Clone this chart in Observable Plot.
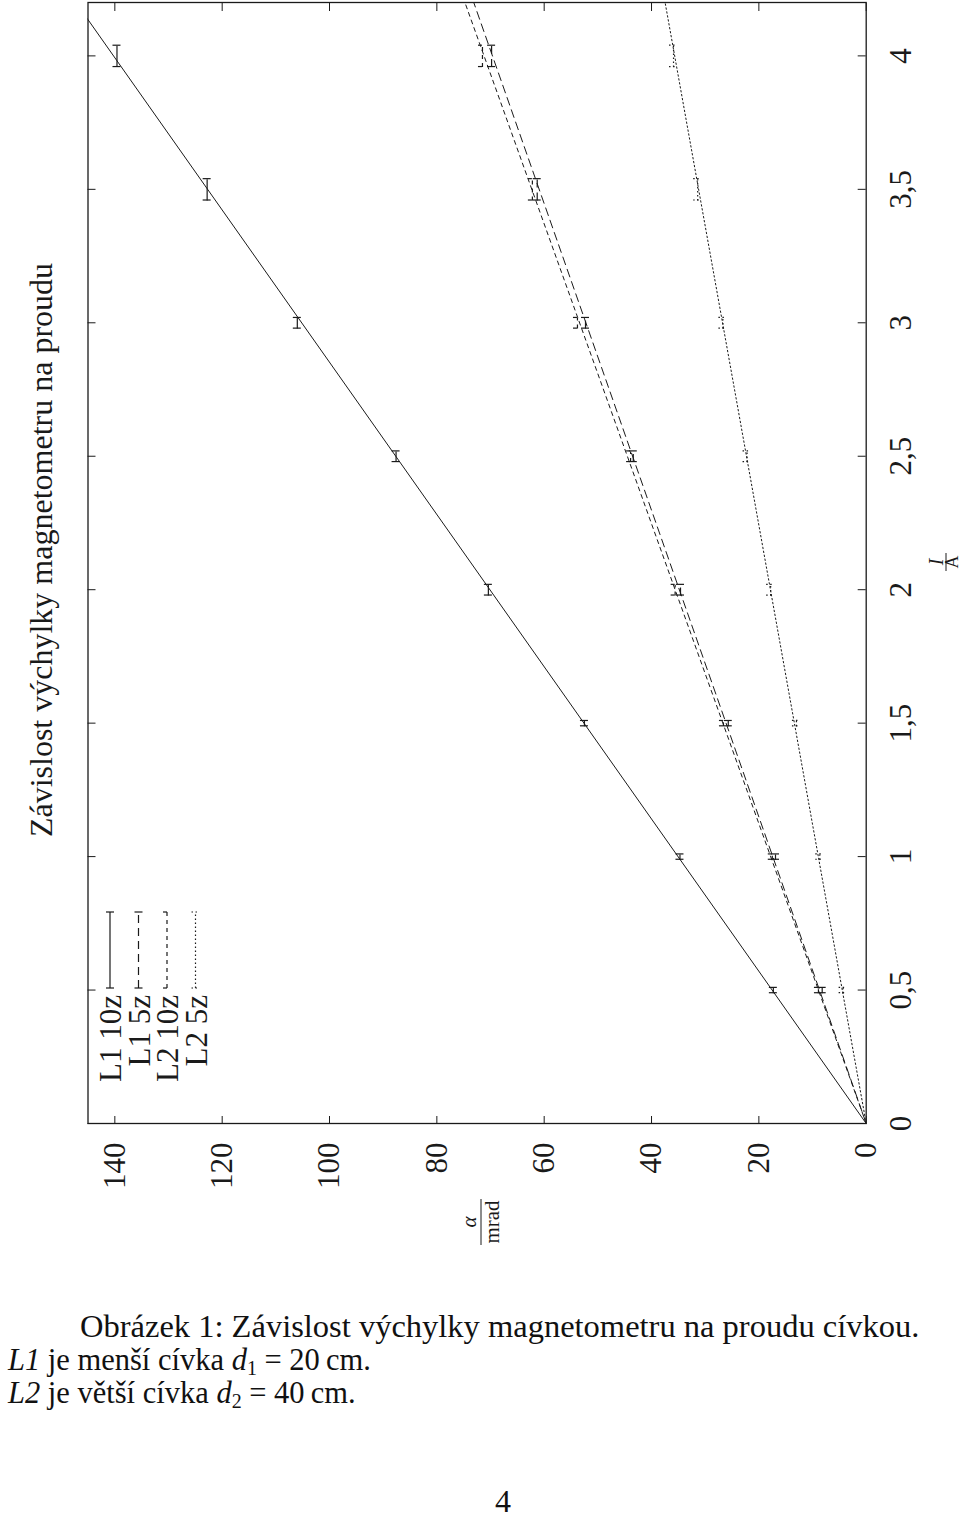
<!DOCTYPE html>
<html>
<head>
<meta charset="utf-8">
<script src="https://cdn.jsdelivr.net/npm/d3@7"></script>
<script src="https://cdn.jsdelivr.net/npm/@observablehq/plot@0.6"></script>
<style>
  html, body { margin: 0; padding: 0; background: #fff; }
  body { width: 960px; height: 1519px; position: relative; overflow: hidden; font-family: "Liberation Serif", serif; color: #111; }
  #rot { position: absolute; left: 0; top: 0; width: 1250px; height: 960px; transform-origin: 0 0; transform: translate(0px, 1250px) rotate(-90deg); }
  .cap { position: absolute; font-size: 32px; line-height: 30px; white-space: nowrap; }
  .sm { font-size: 30.5px; }
  .sb { position: relative; top: 5px; font-size: 20px; line-height: 0; }
</style>
</head>
<body>
<div id="rot"></div>
<div class="cap" style="left:80px; top:1311px; font-size:32.5px;">Obrázek 1: Závislost výchylky magnetometru na proudu cívkou.</div>
<div class="cap sm" style="left:8px; top:1345px;"><i>L1</i> je menší cívka <i>d</i><span class="sb">1</span> = 20&#8201;cm.</div>
<div class="cap sm" style="left:8px; top:1378px;"><i>L2</i> je větší cívka <i>d</i><span class="sb">2</span> = 40&#8201;cm.</div>
<div class="cap" style="left:495px; top:1486px;">4</div>
<script>
// ---- data ----
const current = [0.5, 1, 1.5, 2, 2.5, 3, 3.5, 4];          // I / A
const errCurrent = [0.01, 0.01, 0.01, 0.02, 0.02, 0.02, 0.04, 0.04];
const seriesNames = ["L1 10z", "L1 5z", "L2 10z", "L2 5z"];
const L1_10z = [17.3, 34.7, 52.5, 70.4, 87.6, 106.0, 122.8, 139.6]; // alpha / mrad
const L1_5z  = [8.2, 16.9, 25.7, 34.6, 43.4, 52.3, 61.3, 69.8];
const L2_10z = [8.9, 17.5, 26.6, 35.6, 43.9, 53.8, 62.2, 71.5];
const L2_5z  = [4.3, 8.65, 13.0, 17.8, 22.2, 26.7, 31.4, 35.9];
const xTicks = [0, 0.5, 1, 1.5, 2, 2.5, 3, 3.5, 4];
const yTicks = [0, 20, 40, 60, 80, 100, 120, 140];
const xDomain = [0, 4.2];
const yDomain = [0, 145];
const titleText = "Závislost výchylky magnetometru na proudu";

const seriesValues = [L1_10z, L1_5z, L2_10z, L2_5z];
const dashes = [null, "8,5", "4,4", "1.5,2.5"];

const rows = seriesNames.map((s, k) => seriesValues[k].map((a, i) => ({series: s, I: current[i], a, e: errCurrent[i]})));
// least squares fit through origin (gnuplot "fit f(x)=k*x")
const fitRows = rows.map(r => {
  const k = d3.sum(r, d => d.I * d.a) / d3.sum(r, d => d.I * d.I);
  return [{I: xDomain[0], a: k * xDomain[0]}, {I: xDomain[1], a: k * xDomain[1]}];
});

const ink = "#1a1a1a";
const W = 1250, H = 960;
const fmt = d => String(d).replace(".", ",");

const marks = [
  Plot.axisX(xTicks, {tickSize: 0, tickPadding: 23, tickFormat: fmt, label: null, fontSize: 31}),
  Plot.axisY(yTicks, {tickSize: 0, tickPadding: 19, label: null, fontSize: 31}),
  // inward ticks, mirrored
  Plot.ruleX(xTicks, {x: d => d, y1: yDomain[0], y2: yDomain[0], insetTop: -8, insetBottom: 0, stroke: ink}),
  Plot.ruleX(xTicks, {x: d => d, y1: yDomain[1], y2: yDomain[1], insetTop: 0, insetBottom: -8, stroke: ink}),
  Plot.ruleY(yTicks, {y: d => d, x1: xDomain[0], x2: xDomain[0], insetLeft: 0, insetRight: -8, stroke: ink}),
  Plot.ruleY(yTicks, {y: d => d, x1: xDomain[1], x2: xDomain[1], insetLeft: -8, insetRight: 0, stroke: ink}),
];
rows.forEach((r, k) => {
  const dash = dashes[k];
  marks.push(
    Plot.line(fitRows[k], {x: "I", y: "a", stroke: ink, strokeWidth: 1, strokeDasharray: dash, clip: true}),
    Plot.ruleY(r, {y: "a", x1: d => d.I - d.e, x2: d => d.I + d.e, stroke: ink, strokeWidth: 1.2, strokeDasharray: dash}),
    Plot.ruleX(r, {x: d => d.I - d.e, y1: "a", y2: "a", insetTop: -4, insetBottom: -4, stroke: ink, strokeWidth: 1.2, strokeDasharray: dash}),
    Plot.ruleX(r, {x: d => d.I + d.e, y1: "a", y2: "a", insetTop: -4, insetBottom: -4, stroke: ink, strokeWidth: 1.2, strokeDasharray: dash})
  );
});
marks.push(Plot.frame({stroke: ink, strokeWidth: 1.3}));

const chart = Plot.plot({
  width: W, height: H,
  marginLeft: 126, marginRight: 3, marginTop: 87.5, marginBottom: 94.3,
  x: {domain: xDomain},
  y: {domain: yDomain},
  style: {fontFamily: "Liberation Serif, serif", fontSize: "31px", color: ink, background: "white", overflow: "visible"},
  marks
});
document.getElementById("rot").appendChild(chart);

// extra text inside the (rotated) svg: title, axis labels, legend
const svg = d3.select(chart);
const g = svg.append("g").attr("font-family", "Liberation Serif, serif").attr("fill", ink);
g.append("text").attr("x", 700).attr("y", 52).attr("text-anchor", "middle").attr("font-size", 32).text(titleText);

// alpha / mrad
g.append("text").attr("x", 28).attr("y", 476).attr("text-anchor", "middle").attr("font-size", 21).attr("font-style", "italic").text("α");
g.append("line").attr("x1", 5).attr("x2", 51).attr("y1", 481).attr("y2", 481).attr("stroke", ink).attr("stroke-width", 1);
g.append("text").attr("x", 28).attr("y", 499).attr("text-anchor", "middle").attr("font-size", 21).text("mrad");
// I / A
g.append("text").attr("x", 688).attr("y", 943).attr("text-anchor", "middle").attr("font-size", 20).attr("font-style", "italic").text("I");
g.append("line").attr("x1", 679).attr("x2", 697).attr("y1", 946).attr("y2", 946).attr("stroke", ink).attr("stroke-width", 1);
g.append("text").attr("x", 688).attr("y", 958).attr("text-anchor", "middle").attr("font-size", 18).text("A");

// legend
seriesNames.forEach((s, k) => {
  const base = 121 + k * 28.5;
  const mid = base - 11;
  g.append("text").attr("x", 255).attr("y", base).attr("text-anchor", "end").attr("font-size", 31).text(s);
  const lg = g.append("g").attr("stroke", ink).attr("stroke-width", 1.2).attr("fill", "none");
  if (dashes[k]) lg.attr("stroke-dasharray", dashes[k]);
  lg.append("line").attr("x1", 262).attr("x2", 338).attr("y1", mid).attr("y2", mid);
  lg.append("line").attr("x1", 262).attr("x2", 262).attr("y1", mid - 4).attr("y2", mid + 4);
  lg.append("line").attr("x1", 338).attr("x2", 338).attr("y1", mid - 4).attr("y2", mid + 4);
});
</script>
</body>
</html>
